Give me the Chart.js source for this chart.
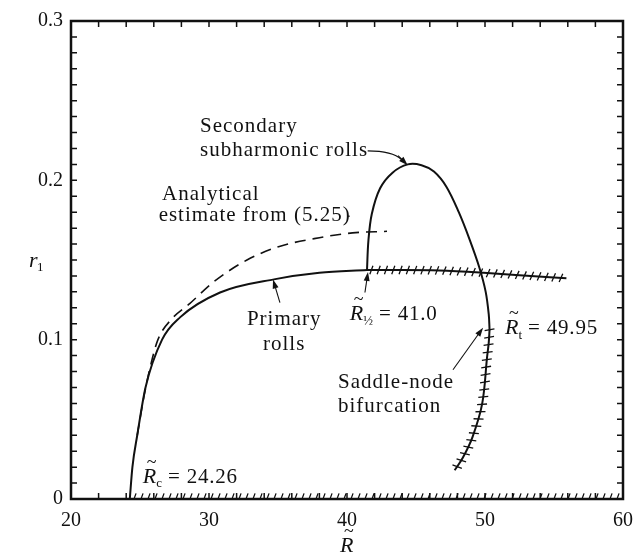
<!DOCTYPE html>
<html>
<head>
<meta charset="utf-8">
<script src="https://cdn.jsdelivr.net/npm/chart.js@4.4.1/dist/chart.umd.min.js"></script>
<style>
html, body { margin: 0; padding: 0; background: #fff; }
</style>
</head>
<body>
<canvas id="chart" width="633" height="557"></canvas>
<script>
// axes
const xMin = 20, xMax = 60, xStep = 2;
const yMin = 0, yMax = 0.3, yStep = 0.01;

// primary rolls, stable part (solid)
const primaryR = [24.26, 24.45, 24.8, 25.4, 26.6, 27.9, 30.8, 34.8, 38.0, 41.45];
const primaryY = [0, 0.02, 0.04, 0.07, 0.1, 0.114, 0.1296, 0.138, 0.142, 0.1437];

// primary rolls, unstable part (hatched)
const primaryUnstR = [41.45, 44.0, 46.7, 49.9, 52.5, 55.9];
const primaryUnstY = [0.1437, 0.1437, 0.1434, 0.142, 0.1405, 0.1385];

// analytical estimate (dashed)
const analyticR = [24.8, 25.3, 25.8, 26.3, 27.3, 28.6, 30.3, 32.75, 35.1, 38.0, 40.4, 42.9];
const analyticY = [0.04, 0.065, 0.085, 0.1, 0.113, 0.1226, 0.136, 0.150, 0.1585, 0.164, 0.167, 0.168];

// secondary subharmonic rolls (solid)
const secondR = [41.45, 41.55, 41.8, 42.4, 43.3, 44.4, 45.4, 46.3, 47.2, 48.1, 48.9, 49.6, 50.05, 50.27, 50.33];
const secondY = [0.1437, 0.162, 0.179, 0.195, 0.2048, 0.2100, 0.2095, 0.2055, 0.196, 0.180, 0.1625, 0.145, 0.130, 0.116, 0.1063];

// secondary, lower unstable branch (hatched)
const secondUnstR = [47.8, 48.4, 49.1, 49.8, 50.15, 50.27, 50.33];
const secondUnstY = [0.018, 0.026, 0.039, 0.060, 0.089, 0.098, 0.1063];

// trivial solution r1 = 0, unstable beyond Rc (hatched)
const trivialR = [24.26, 60];
const trivialY = [0, 0];

const FONT = "'Liberation Serif', 'Times New Roman', serif";
const INK = "#111";

function pts(xs, ys) {
    return xs.map((x, i) => ({ x: x, y: ys[i] }));
}

// hatching along a drawn line, follows the bezier between the points
function hatchLine(ctx, els, spacing, len, slant) {
    const path = [];
    for (let i = 0; i < els.length; i++) {
        const p = els[i];
        if (i === 0) { path.push([p.x, p.y]); continue; }
        const a = els[i - 1];
        const c1x = a.cp2x ?? a.x, c1y = a.cp2y ?? a.y;
        const c2x = p.cp1x ?? p.x, c2y = p.cp1y ?? p.y;
        for (let k = 1; k <= 20; k++) {
            const t = k / 20, u = 1 - t;
            path.push([
                u*u*u*a.x + 3*u*u*t*c1x + 3*u*t*t*c2x + t*t*t*p.x,
                u*u*u*a.y + 3*u*u*t*c1y + 3*u*t*t*c2y + t*t*t*p.y
            ]);
        }
    }
    let acc = spacing * 0.6;
    ctx.beginPath();
    for (let i = 1; i < path.length; i++) {
        const [ax, ay] = path[i - 1], [bx, by] = path[i];
        const seg = Math.hypot(bx - ax, by - ay);
        if (!seg) continue;
        const ux = (bx - ax) / seg, uy = (by - ay) / seg;
        let t = acc;
        while (t <= seg) {
            const px = ax + ux * t, py = ay + uy * t;
            const ang = Math.atan2(uy, ux) + Math.PI / 2 + slant;
            const cx = Math.cos(ang) * len / 2, cy = Math.sin(ang) * len / 2;
            ctx.moveTo(px - cx, py - cy);
            ctx.lineTo(px + cx, py + cy);
            t += spacing;
        }
        acc = t - seg;
    }
    ctx.stroke();
}

function arrow(ctx, x1, y1, x2, y2) {
    const ang = Math.atan2(y2 - y1, x2 - x1);
    ctx.beginPath();
    ctx.moveTo(x1, y1);
    ctx.lineTo(x2 - Math.cos(ang) * 5, y2 - Math.sin(ang) * 5);
    ctx.stroke();
    ctx.beginPath();
    ctx.moveTo(x2, y2);
    ctx.lineTo(x2 - Math.cos(ang) * 9 + Math.sin(ang) * 3, y2 - Math.sin(ang) * 9 - Math.cos(ang) * 3);
    ctx.lineTo(x2 - Math.cos(ang) * 9 - Math.sin(ang) * 3, y2 - Math.sin(ang) * 9 + Math.cos(ang) * 3);
    ctx.closePath();
    ctx.fill();
}

// R with tilde, subscript and optional rest of text
function tildeR(ctx, x, y, sub, rest) {
    ctx.textBaseline = "middle";
    ctx.textAlign = "left";
    ctx.font = "italic 22px " + FONT;
    ctx.fillText("R", x, y);
    const w = ctx.measureText("R").width;
    ctx.font = "18px " + FONT;
    ctx.fillText("~", x + 4, y - 14);
    let xx = x + w;
    if (sub) {
        ctx.font = "13px " + FONT;
        ctx.fillText(sub, xx, y + 7);
        xx += ctx.measureText(sub).width;
    }
    if (rest) {
        ctx.font = "21px " + FONT;
        ctx.letterSpacing = "0.8px";
        ctx.fillText(rest, xx + 6, y);
        ctx.letterSpacing = "0px";
    }
}

const decorPlugin = {
    id: "decor",
    afterDatasetsDraw(chart) {
        const ctx = chart.ctx;
        const area = chart.chartArea;
        const xs = chart.scales.x, ys = chart.scales.y;
        ctx.save();
        ctx.strokeStyle = INK;
        ctx.fillStyle = INK;
        // hatches on unstable branches
        chart.data.datasets.forEach((ds, i) => {
            if (!ds.hatch) return;
            const els = chart.getDatasetMeta(i).data;
            ctx.save();
            ctx.beginPath();
            ctx.rect(area.left, area.top, area.right - area.left, area.bottom - area.top);
            ctx.clip();
            ctx.lineWidth = 1.3;
            hatchLine(ctx, els, ds.hatch.spacing, ds.hatch.len, ds.hatch.slant);
            ctx.restore();
        });

        // frame and inward ticks
        ctx.lineWidth = 2.5;
        ctx.strokeRect(area.left, area.top, area.right - area.left, area.bottom - area.top);
        ctx.lineWidth = 1.5;
        ctx.beginPath();
        xs.ticks.forEach(t => {
            const px = xs.getPixelForValue(t.value);
            ctx.moveTo(px, area.bottom); ctx.lineTo(px, area.bottom - 6);
            ctx.moveTo(px, area.top); ctx.lineTo(px, area.top + 6);
        });
        ys.ticks.forEach(t => {
            const py = ys.getPixelForValue(t.value);
            ctx.moveTo(area.left, py); ctx.lineTo(area.left + 6, py);
            ctx.moveTo(area.right, py); ctx.lineTo(area.right - 6, py);
        });
        ctx.stroke();

        const X = v => xs.getPixelForValue(v);
        const Y = v => ys.getPixelForValue(v);

        // annotation texts
        ctx.letterSpacing = "1px";
        ctx.font = "21px " + FONT;
        ctx.textBaseline = "middle";
        ctx.textAlign = "left";
        ctx.fillText("Secondary", X(29.35), Y(0.234));
        ctx.fillText("subharmonic rolls", X(29.35), Y(0.219));
        ctx.fillText("Analytical", X(26.6), Y(0.191));
        ctx.fillText("estimate from (5.25)", X(26.35), Y(0.178));
        ctx.textAlign = "center";
        ctx.fillText("Primary", X(35.45), Y(0.1126));
        ctx.fillText("rolls", X(35.45), Y(0.097));
        ctx.textAlign = "left";
        ctx.fillText("Saddle-node", X(39.35), Y(0.073));
        ctx.fillText("bifurcation", X(39.35), Y(0.058));
        ctx.letterSpacing = "0px";

        tildeR(ctx, X(40.2), Y(0.1157), "\u00BD", "= 41.0");
        tildeR(ctx, X(51.45), Y(0.107), "t", "= 49.95");
        tildeR(ctx, X(25.2), Y(0.0138), "c", "= 24.26");

        // arrows and leaders
        ctx.lineWidth = 1.1;
        arrow(ctx, X(35.14), Y(0.1233), X(34.64), Y(0.1377));
        arrow(ctx, X(41.3), Y(0.1296), X(41.52), Y(0.1425));
        arrow(ctx, X(47.68), Y(0.0811), X(49.86), Y(0.1075));
        ctx.beginPath();
        ctx.moveTo(X(41.5), Y(0.2185));
        ctx.quadraticCurveTo(X(43.3), Y(0.2185), X(43.95), Y(0.213));
        ctx.stroke();
        arrow(ctx, X(43.7), Y(0.2155), X(44.4), Y(0.2095));
        ctx.beginPath();
        ctx.moveTo(X(40.0), Y(0.1775));
        ctx.lineTo(X(40.2), Y(0.1775));
        ctx.stroke();

        // axis names
        tildeR(ctx, (area.left + area.right) / 2 - 7, area.bottom + 47, "", "");
        ctx.font = "italic 22px " + FONT;
        ctx.textBaseline = "middle";
        ctx.fillText("r", area.left - 42, Y(0.149));
        ctx.font = "13px " + FONT;
        ctx.fillText("1", area.left - 34, Y(0.149) + 6);
        ctx.restore();
    }
};

const lineBase = { borderColor: INK, pointRadius: 0, fill: false, cubicInterpolationMode: "monotone" };
const curveBase = { borderColor: INK, pointRadius: 0, fill: false, tension: 0.35 };

new Chart(document.getElementById("chart"), {
    type: "line",
    data: {
        datasets: [
            Object.assign({ label: "Primary rolls", data: pts(primaryR, primaryY), borderWidth: 2 }, lineBase),
            Object.assign({ label: "Primary rolls (unstable)", data: pts(primaryUnstR, primaryUnstY), borderWidth: 2,
                hatch: { spacing: 7.3, len: 9, slant: 0.35 } }, lineBase),
            Object.assign({ label: "Analytical estimate", data: pts(analyticR, analyticY), borderWidth: 1.6,
                borderDash: [11, 7] }, lineBase),
            Object.assign({ label: "Secondary subharmonic rolls", data: pts(secondR, secondY), borderWidth: 2 }, curveBase),
            Object.assign({ label: "Secondary (unstable)", data: pts(secondUnstR, secondUnstY), borderWidth: 2,
                hatch: { spacing: 7.5, len: 10, slant: -0.25 } }, curveBase),
            Object.assign({ label: "r1 = 0", data: pts(trivialR, trivialY), borderWidth: 0,
                hatch: { spacing: 7, len: 12, slant: 0.35 } }, lineBase)
        ]
    },
    options: {
        responsive: false,
        animation: false,
        layout: { autoPadding: false, padding: { top: 21, right: 10, left: 0, bottom: 0 } },
        plugins: { legend: { display: false }, tooltip: { enabled: false } },
        scales: {
            x: {
                type: "linear",
                min: xMin, max: xMax,
                grid: { display: false, drawTicks: false },
                border: { display: false },
                afterFit: s => { s.height = 58; s.paddingLeft = 0; s.paddingRight = 0; },
                ticks: {
                    stepSize: xStep, autoSkip: false, maxRotation: 0, padding: 10,
                    color: INK, font: { family: FONT, size: 20 },
                    callback: v => (Math.round(v) % 10 === 0 ? String(Math.round(v)) : "")
                }
            },
            y: {
                type: "linear",
                min: yMin, max: yMax,
                grid: { display: false, drawTicks: false },
                border: { display: false },
                afterFit: s => { s.width = 71; s.paddingTop = 0; s.paddingBottom = 0; },
                ticks: {
                    stepSize: yStep, autoSkip: false, padding: 8,
                    color: INK, font: { family: FONT, size: 20 },
                    callback: v => {
                        const k = Math.round(v * 100);
                        if (k % 10 !== 0) return "";
                        return k === 0 ? "0" : (k / 100).toFixed(1);
                    }
                }
            }
        }
    },
    plugins: [decorPlugin]
});
</script>
</body>
</html>
